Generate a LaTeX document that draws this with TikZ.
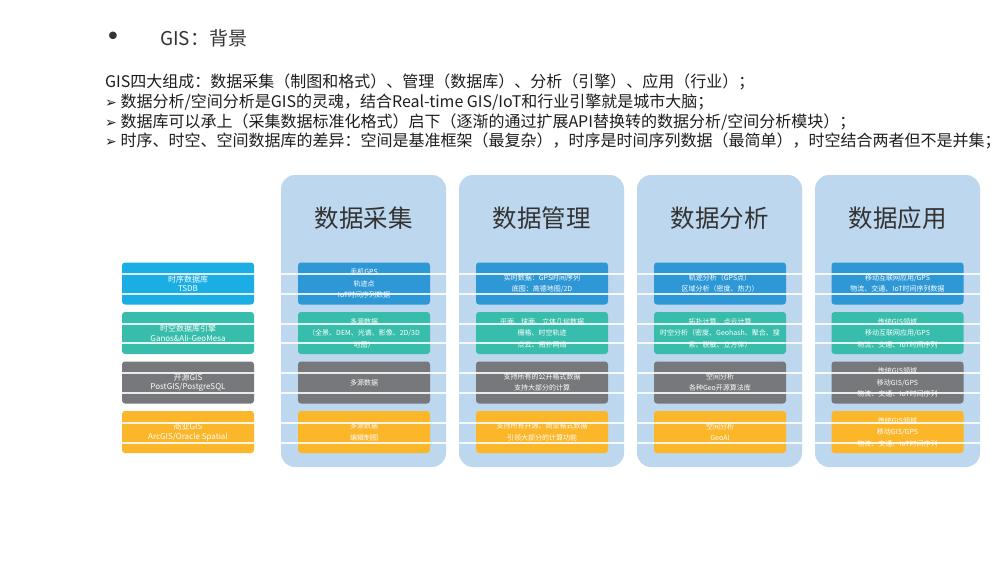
\documentclass[tikz,border=0pt]{standalone}
\usepackage{fontspec}
\setmainfont{Noto Sans CJK SC}
\newfontfamily\symfont{DejaVu Sans}
\definecolor{colbg}{HTML}{BDD7EE}
\definecolor{cyanc}{HTML}{1AAEE5}
\definecolor{bluec}{HTML}{2E98D6}
\definecolor{tealc}{HTML}{38BDAD}
\definecolor{grayc}{HTML}{77787B}
\definecolor{orangec}{HTML}{FBB62A}
\definecolor{headc}{HTML}{333333}
\definecolor{textc}{HTML}{1E1E1E}
\newcommand{\arw}{{\symfont\fontsize{14}{16}\selectfont ➢}}
\begin{document}
\begin{tikzpicture}[x=1pt,y=-1pt,
  colbox/.style={fill=colbg, rounded corners=14pt, minimum width=165pt, minimum height=292pt, inner sep=0pt},
  cell/.style={rounded corners=3pt, minimum width=132pt, minimum height=42pt, inner sep=1pt, align=center, text=white, font=\fontsize{7}{11.5}\selectfont},
  lab/.style={cell, font=\fontsize{8}{9.5}\selectfont},
  head/.style={font=\fontsize{24.5}{28}\selectfont, text=headc, inner sep=0pt},
  para/.style={anchor=west, inner sep=0pt, text=textc, font=\fontsize{16}{18}\selectfont},
  arte/.style={white, line width=1.1pt, opacity=0.85}]
\fill[white] (0,0) rectangle (1000,563);
\useasboundingbox (0,0) rectangle (1000,563);
% title
\node[anchor=center, inner sep=0pt, text=headc, font=\symfont\fontsize{26}{28}\selectfont] (bul) at (113,39) {•};
\node[anchor=west, inner sep=0pt, text=headc, font=\fontsize{19}{22}\selectfont] (title) at (160,38) {GIS：背景};
% paragraph
\node[para] (p1) at (105,82) {GIS四大组成：数据采集（制图和格式）、管理（数据库）、分析（引擎）、应用（行业）；};
\node[para] (p2) at (105,102) {\arw\ 数据分析/空间分析是GIS的灵魂，结合Real-time GIS/IoT和行业引擎就是城市大脑；};
\node[para] (p3) at (105,122) {\arw\ 数据库可以承上（采集数据标准化格式）启下（逐渐的通过扩展API替换转的数据分析/空间分析模块）；};
\node[para] (p4) at (105,141) {\arw\ 时序、时空、空间数据库的差异：空间是基准框架（最复杂），时序是时间序列数据（最简单），时空结合两者但不是并集；};
% columns
\node[colbox] (c1) at (363.5,321) {};
\node[colbox] (c2) at (541.5,321) {};
\node[colbox] (c3) at (719.5,321) {};
\node[colbox] (c4) at (897.5,321) {};
\node[head] (h1) at (363.5,218) {数据采集};
\node[head] (h2) at (541.5,218) {数据管理};
\node[head] (h3) at (719.5,218) {数据分析};
\node[head] (h4) at (897.5,218) {数据应用};
% left labels
\node[lab, fill=cyanc] (l1) at (188,283.5) {时序数据库\\TSDB};
\node[lab, fill=tealc] (l2) at (188,333) {时空数据库引擎\\Ganos\&Ali-GeoMesa};
\node[lab, fill=grayc] (l3) at (188,382.5) {开源GIS\\PostGIS/PostgreSQL};
\node[lab, fill=orangec] (l4) at (188,432) {商业GIS\\ArcGIS/Oracle Spatial};
% column 1
\node[cell, fill=bluec] (a1) at (364,283.5) {手机GPS\\轨迹点\\IoT时间序列数据};
\node[cell, fill=tealc] (a2) at (364,333) {多源数据\\（全景、DEM、光谱、影像、2D/3D\\地图）};
\node[cell, fill=grayc] (a3) at (364,382.5) {多源数据};
\node[cell, fill=orangec] (a4) at (364,432) {多源数据\\编辑制图};
% column 2
\node[cell, fill=bluec] (b1) at (542,283.5) {实时数据：GPS时间序列\\底图：高德地图/2D};
\node[cell, fill=tealc] (b2) at (542,333) {平面、球面、立体几何数据\\栅格、时空轨迹\\点云、拓扑网络};
\node[cell, fill=grayc] (b3) at (542,382.5) {支持所有的公开格式数据\\支持大部分的计算};
\node[cell, fill=orangec] (b4) at (542,432) {支持所有开源、商业格式数据\\引领大部分的计算功能};
% column 3
\node[cell, fill=bluec] (d1) at (720,283.5) {轨迹分析（GPS点）\\区域分析（密度、热力）};
\node[cell, fill=tealc] (d2) at (720,333) {拓扑计算、点云计算\\时空分析（密度、Geohash、聚合、搜\\索、脱敏、立方体）};
\node[cell, fill=grayc] (d3) at (720,382.5) {空间分析\\各种Geo开源算法库};
\node[cell, fill=orangec] (d4) at (720,432) {空间分析\\GeoAI};
% column 4
\node[cell, fill=bluec] (e1) at (897.5,283.5) {移动互联网应用/GPS\\物流、交通、IoT时间序列数据};
\node[cell, fill=tealc] (e2) at (897.5,333) {传统GIS领域\\移动互联网应用/GPS\\物流、交通、IoT时间序列};
\node[cell, fill=grayc] (e3) at (897.5,382.5) {传统GIS领域\\移动GIS/GPS\\物流、交通、IoT时间序列};
\node[cell, fill=orangec] (e4) at (897.5,432) {传统GIS领域\\移动GIS/GPS\\物流、交通、IoT时间序列};
% thin white scan lines across the rows
\foreach \yy in {274,294,324,343,373,393,423,443} {
  \draw[arte] (122,\yy) -- (985,\yy);
}
\end{tikzpicture}
\end{document}
